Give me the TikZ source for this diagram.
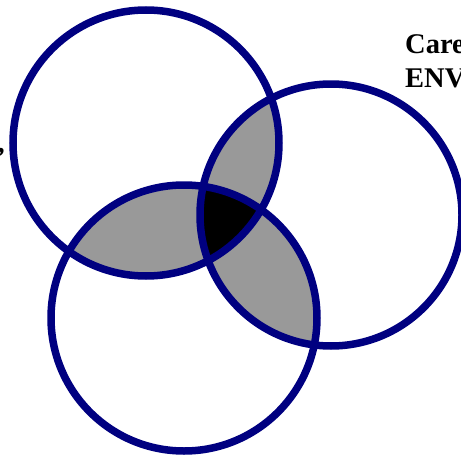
\documentclass[tikz,border=0pt]{standalone}
\usepackage{fontspec}
\setmainfont{Liberation Serif}
\definecolor{ringblue}{HTML}{000080}
\definecolor{overlapgray}{HTML}{999999}
\begin{document}
\begin{tikzpicture}[
    x=1pt, y=-1pt,
    ring/.style={draw=ringblue, line width=7.5pt},
    label/.style={font=\bfseries\fontsize{28.5}{34}\selectfont, align=left, inner sep=0pt}
]
\useasboundingbox (0,0) rectangle (461,455);
\clip (0,0) rectangle (461,455);
\coordinate (top) at (146,143);
\coordinate (right) at (331,215);
\coordinate (bottom) at (184,318);
% pairwise overlaps
\begin{scope}
  \clip (top) circle (133);
  \fill[overlapgray] (right) circle (131);
  \fill[overlapgray] (bottom) circle (133);
\end{scope}
\begin{scope}
  \clip (right) circle (131);
  \fill[overlapgray] (bottom) circle (133);
\end{scope}
% triple overlap
\begin{scope}
  \clip (top) circle (133);
  \clip (right) circle (131);
  \fill[black] (bottom) circle (133);
\end{scope}
\draw[ring] (top) circle (133);
\draw[ring] (right) circle (131);
\draw[ring] (bottom) circle (133);
\node[label, anchor=base west] (care) at (405,87) {Care\\ENV};
\node[label, anchor=base east] (comma) at (5,152) {,};
\end{tikzpicture}
\end{document}
